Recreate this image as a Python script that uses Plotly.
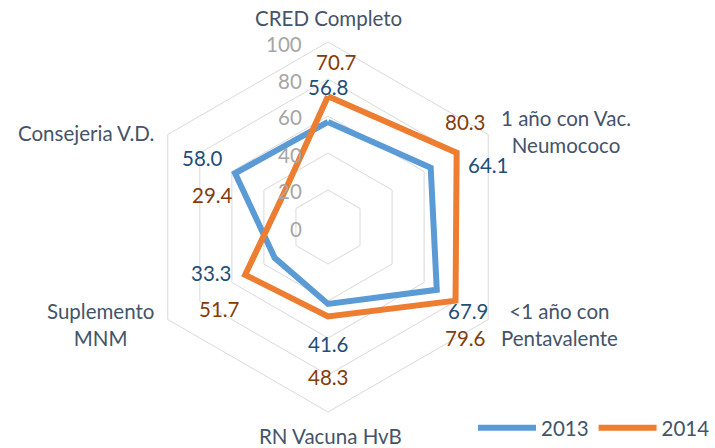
import math
import plotly.graph_objects as go

# ---- data ----
categories = ["CRED Completo", "1 año con Vac. Neumococo", "<1 año con Pentavalente",
              "RN Vacuna HvB", "Suplemento MNM", "Consejeria V.D."]
category_labels = ["CRED Completo", "1 año con Vac.<br>Neumococo", "<1 año con<br>Pentavalente",
                   "RN Vacuna HvB", "Suplemento<br>MNM", "Consejeria V.D."]
values_2013 = [56.8, 64.1, 67.9, 41.6, 33.3, 58.0]
values_2014 = [70.7, 80.3, 79.6, 48.3, 51.7, 29.4]
radial_ticks = [0, 20, 40, 60, 80, 100]

# ---- layout geometry (pixels) ----
W, H = 715, 448
CX, CY, R = 328, 227, 185
RMAX = 100

FONT = "Lato"
FS = 20.5
C2013, C2014 = "#5B9BD5", "#ED7D31"
T2013, T2014 = "#1F4E79", "#843C0C"
TXT = "#44546A"
TICKC = "#A6A6A6"

def to_paper(v, i):
    ang = math.radians(90 - 60 * i)
    px = CX + v / RMAX * R * math.cos(ang)
    py = CY - v / RMAX * R * math.sin(ang)
    return px / W, 1 - py / H

fig = go.Figure()
for name, vals, col in [("2013", values_2013, C2013), ("2014", values_2014, C2014)]:
    fig.add_trace(go.Scatterpolar(
        r=vals + vals[:1], theta=categories + categories[:1],
        mode="lines", name=name,
        line=dict(color=col, width=6, shape="linear"),
    ))

annotations = []
# value label offsets (px, right/down positive)
off_2013 = [(0, -35), (58, -3), (32, 21), (0, 40), (-63, 15), (-33, -15)]
off_2014 = [(8, -34), (9, -31), (10, 37), (0, 61), (-26, 34), (-68, -5)]
for vals, offs, col in [(values_2013, off_2013, T2013), (values_2014, off_2014, T2014)]:
    for i, v in enumerate(vals):
        x, y = to_paper(v, i)
        annotations.append(dict(
            x=x, y=y, xref="paper", yref="paper", text=f"{v:.1f}",
            showarrow=False, xshift=offs[i][0], yshift=-offs[i][1],
            xanchor="center", yanchor="middle",
            font=dict(family=FONT, size=FS, color=col)))

cat_offs = [(0, -24), (78, -3), (71, 5), (2, 24), (-67, 5), (-82, -2)]
for i, lab in enumerate(category_labels):
    x, y = to_paper(RMAX, i)
    annotations.append(dict(
        x=x, y=y, xref="paper", yref="paper", text=lab,
        showarrow=False, xshift=cat_offs[i][0], yshift=-cat_offs[i][1],
        xanchor="center", yanchor="middle", align="center",
        font=dict(family=FONT, size=FS, color=TXT)))

# radial tick labels, right-aligned left of the top spoke
for t in radial_ticks:
    x, y = to_paper(t, 0)
    annotations.append(dict(
        x=x, y=y, xref="paper", yref="paper", text=str(t),
        showarrow=False, xshift=-24, yshift=-1.5,
        xanchor="right", yanchor="middle",
        font=dict(family=FONT, size=FS, color=TICKC)))

fig.update_layout(
    width=W, height=H,
    margin=dict(l=0, r=0, t=0, b=0),
    paper_bgcolor="white", plot_bgcolor="white",
    showlegend=True,
    legend=dict(orientation="h", x=1.0, xanchor="right", y=0.0, yanchor="bottom",
                itemwidth=58,
                font=dict(family=FONT, size=FS, color=TXT), bgcolor="rgba(0,0,0,0)"),
    polar=dict(
        domain=dict(x=[(CX - R) / W, (CX + R) / W], y=[(H - CY - R) / H, (H - CY + R) / H]),
        gridshape="linear",
        bgcolor="white",
        radialaxis=dict(range=[0, RMAX], tickvals=radial_ticks, angle=90,
                        showticklabels=False, showline=False, ticks="",
                        gridcolor="#D9D9D9", gridwidth=1),
        angularaxis=dict(rotation=90, direction="clockwise", showgrid=False,
                         showticklabels=False, ticks="",
                         showline=True, linecolor="#D9D9D9", linewidth=1),
    ),
    annotations=annotations,
)

fig.write_html("out.html", config={"displayModeBar": False},
               post_script="document.body.style.margin='0';document.body.style.overflow='hidden';")
